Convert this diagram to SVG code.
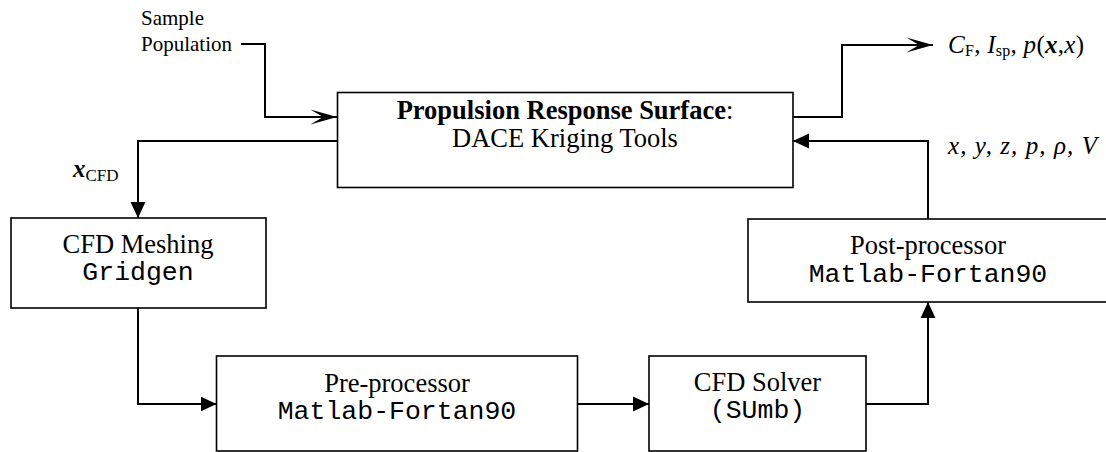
<svg xmlns="http://www.w3.org/2000/svg" width="1106" height="452" viewBox="0 0 1106 452">
<style>
.box{fill:#fff;stroke:#000;stroke-width:1.6}
.c{fill:none;stroke:#000;stroke-width:2}
.t{font-family:"Liberation Serif","Times New Roman",serif;font-size:26.5px;fill:#000}
.m{font-family:"Liberation Mono","Courier New",monospace;font-size:26.5px;fill:#000}
.s{font-family:"Liberation Serif","Times New Roman",serif;font-size:21px;fill:#000}
.l{font-family:"Liberation Serif","Times New Roman",serif;font-size:25px;fill:#000}
.i{font-style:italic}
</style>
<defs>
<marker id="tri" markerUnits="userSpaceOnUse" markerWidth="16" markerHeight="16" viewBox="-15 -7 15 14" refX="0" refY="0" orient="auto">
<polygon points="0,0 -15,-7 -15,7" fill="#000"/>
</marker>
<marker id="barb" markerUnits="userSpaceOnUse" markerWidth="28" markerHeight="16" viewBox="-26 -7.5 26 15" refX="0" refY="0" orient="auto">
<polygon points="0,0 -25,-7 -13,0 -25,7" fill="#000"/>
</marker>
</defs>
<g id="connectors">
<polyline class="c" points="241,44 265,44 265,117 337,117" marker-end="url(#barb)"/>
<polyline class="c" points="793,117 842,117 842,45 933,45" marker-end="url(#barb)"/>
<polyline class="c" points="337.5,141 138,141 138,218" marker-end="url(#tri)"/>
<polyline class="c" points="928,219 928,141 793,141" marker-end="url(#tri)"/>
<polyline class="c" points="138,308 138,404 216.5,404" marker-end="url(#tri)"/>
<polyline class="c" points="577.5,404 649,404" marker-end="url(#tri)"/>
<polyline class="c" points="866,404 928,404 928,302" marker-end="url(#tri)"/>
</g>
<g id="sample-label">
<text class="s" x="141" y="25">Sample</text>
<text class="s" x="141" y="50.5">Population</text>
</g>
<g id="out-label">
<text class="l i" x="948" y="53" textLength="136" lengthAdjust="spacing">C<tspan font-style="normal" font-size="16" dy="3">F</tspan><tspan font-style="normal" dy="-3">, </tspan>I<tspan font-style="normal" font-size="16" dy="3">sp</tspan><tspan font-style="normal" dy="-3">, </tspan>p<tspan font-style="normal">(</tspan><tspan font-weight="bold">x</tspan><tspan font-style="normal">,</tspan>x<tspan font-style="normal">)</tspan></text>
</g>
<g id="fb-label">
<text class="l i" x="948" y="154" textLength="149" lengthAdjust="spacing">x, y, z, p, ρ, V</text>
</g>
<g id="xcfd-label">
<text class="l" x="73" y="177"><tspan font-weight="bold" font-style="italic">x</tspan><tspan font-size="17" dy="4">CFD</tspan></text>
</g>
<g id="node-rs">
<rect class="box" x="337.5" y="92.5" width="455.5" height="95"/>
<text class="t" x="565" y="119" text-anchor="middle"><tspan font-weight="bold">Propulsion Response Surface</tspan>:</text>
<text class="t" x="565" y="146.5" text-anchor="middle">DACE Kriging Tools</text>
</g>
<g id="node-mesh">
<rect class="box" x="11" y="218" width="255" height="90"/>
<text class="t" x="138" y="253" text-anchor="middle">CFD Meshing</text>
<text class="m" x="138" y="280" text-anchor="middle">Gridgen</text>
</g>
<g id="node-post">
<rect class="box" x="748" y="219" width="360" height="83"/>
<text class="t" x="928" y="254" text-anchor="middle">Post-processor</text>
<text class="m" x="928" y="281.5" text-anchor="middle">Matlab-Fortan90</text>
</g>
<g id="node-pre">
<rect class="box" x="216.5" y="356" width="361" height="95"/>
<text class="t" x="397" y="391.5" text-anchor="middle">Pre-processor</text>
<text class="m" x="397" y="419" text-anchor="middle">Matlab-Fortan90</text>
</g>
<g id="node-solver">
<rect class="box" x="649" y="356" width="217" height="95"/>
<text class="t" x="757.5" y="391" text-anchor="middle">CFD Solver</text>
<text class="m" x="757.5" y="418" text-anchor="middle">(SUmb)</text>
</g>
</svg>
